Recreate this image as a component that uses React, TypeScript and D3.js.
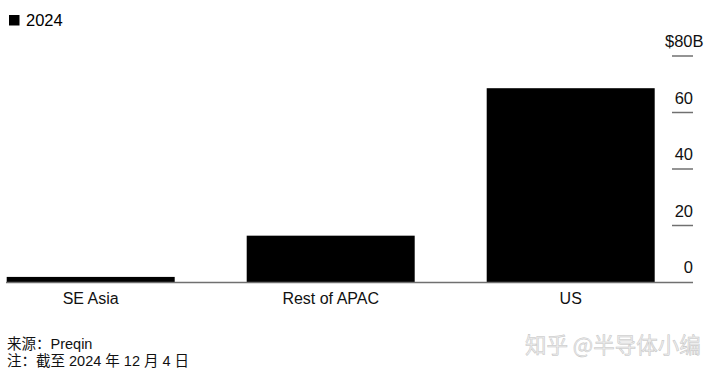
import React from "react";
import * as d3 from "d3";

const categories = ["SE Asia", "Rest of APAC", "US"];
const values2024 = [1.8, 16.4, 68.6];
const yTicks = [0, 20, 40, 60, 80];
const legendLabel = "2024";
const sourceLines = ["来源：Preqin", "注：截至 2024 年 12 月 4 日"];
const watermark = "知乎 @半导体小编";

const W = 720;
const H = 377;
const FONT = "'Liberation Sans', Arial, Helvetica, sans-serif";

export default function App() {
  const x = d3.scaleBand<string>().domain(categories).range([6.7, 654.7]).paddingInner(0.3).paddingOuter(0);
  const y = d3.scaleLinear().domain([0, 80]).range([282, 56]);
  const axisGray = "#707070";

  return (
    <svg width={W} height={H} style={{ position: "absolute", left: 0, top: 0, background: "#fff" }} fontFamily={FONT}>
      {/* legend */}
      <rect x={9} y={15} width={10.5} height={10.5} fill="#000" />
      <text x={26} y={25.5} fontSize={16.5} fill="#000">{legendLabel}</text>

      {/* bars */}
      {categories.map((c, i) => (
        <rect key={c} x={x(c)} y={y(values2024[i])} width={x.bandwidth()} height={y(0) - y(values2024[i])} fill="#000" />
      ))}

      {/* baseline */}
      <line x1={6} x2={693} y1={y(0) + 0.5} y2={y(0) + 0.5} stroke={axisGray} strokeWidth={1.5} />

      {/* y ticks */}
      {yTicks.map((t) => (
        <g key={t}>
          {t !== 0 && (
            <line x1={672} x2={693} y1={y(t)} y2={y(t)} stroke={axisGray} strokeWidth={1.5} />
          )}
          {t === 80 ? (
            <text x={665} y={y(t) - 9} fontSize={16.5} fill="#111">${t}B</text>
          ) : (
            <text x={693} y={y(t) - 9} fontSize={16.5} fill="#111" textAnchor="end">{t}</text>
          )}
        </g>
      ))}

      {/* category labels */}
      {categories.map((c) => (
        <text key={c} x={(x(c) as number) + x.bandwidth() / 2} y={303.5} fontSize={16} fill="#111" textAnchor="middle">{c}</text>
      ))}

      {/* source */}
      {sourceLines.map((s, i) => (
        <text key={s} x={7} y={349 + i * 17} fontSize={14.5} fill="#111" fontFamily="'Liberation Sans', 'Noto Sans CJK SC', sans-serif">{s}</text>
      ))}

      {/* watermark */}
      <text x={525} y={353} fontSize={21.5} fill="#eeeeee" stroke="#c4c4c4" strokeWidth={0.5} fontFamily="'Noto Sans CJK SC', sans-serif">{watermark}</text>
    </svg>
  );
}
